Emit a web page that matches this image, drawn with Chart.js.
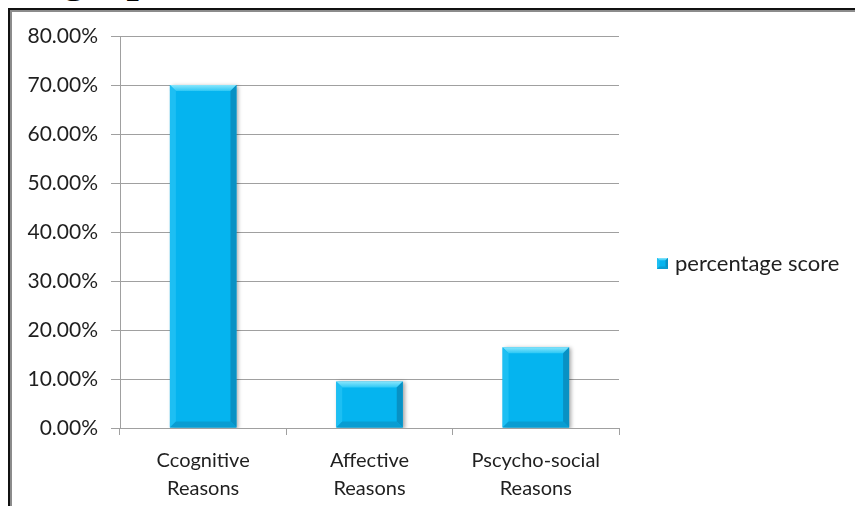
<!DOCTYPE html>
<html>
<head>
<meta charset="utf-8">
<script src="https://cdn.jsdelivr.net/npm/chart.js@4"></script>
<style>
  html, body { margin: 0; padding: 0; background: #fff; overflow: hidden; }
  #wrap { position: relative; width: 855px; height: 506px; overflow: hidden; }
  #cap { position: absolute; left: 63px; top: -44px; font: bold 44px "Liberation Serif", serif; line-height: 44px; color: #000; white-space: nowrap; }
  #frame { position: absolute; left: 8px; top: 8px; width: 900px; height: 600px; border-left: 2px solid #111; border-top: 2px solid #111; }
  #frame2 { position: absolute; left: 10px; top: 10px; width: 900px; height: 600px; border-left: 2px solid #8c8c8c; border-top: 2px solid #8c8c8c; }
  canvas { position: absolute; left: 0; top: 0; }
</style>
</head>
<body>
<div id="wrap">
  <div id="cap">graph</div>
  <div id="frame"></div>
  <div id="frame2"></div>
  <canvas id="c" width="855" height="506"></canvas>
</div>
<script>
// Reasons and their percentage scores
const categories = [
  ['Ccognitive', 'Reasons'],
  ['Affective', 'Reasons'],
  ['Pscycho-social', 'Reasons']
];
const seriesName = 'percentage score';
const percentageScore = [70, 9.5, 16.5];
const yTickValues = [0, 10, 20, 30, 40, 50, 60, 70, 80];

const FAMILY = 'Lato, "Open Sans", sans-serif';
const TEXT = '#1f1f1f';
const GRID = '#a0a0a0';
const FACE = '#05b4ef';

// bevelled look for each bar: light top edge, darker right and bottom edges
function bevel(ctx, L, T, R, B, b) {
  const g = ctx.createLinearGradient(0, T, 0, T + b);
  g.addColorStop(0, '#8ae6fc');
  g.addColorStop(1, '#2ec8f5');
  ctx.fillStyle = g;
  ctx.beginPath(); ctx.moveTo(L, T); ctx.lineTo(R, T); ctx.lineTo(R - b, T + b); ctx.lineTo(L + b, T + b); ctx.closePath(); ctx.fill();
  ctx.fillStyle = '#1dbff3';
  ctx.beginPath(); ctx.moveTo(L, T); ctx.lineTo(L + b, T + b); ctx.lineTo(L + b, B - b); ctx.lineTo(L, B); ctx.closePath(); ctx.fill();
  ctx.fillStyle = '#0891c4';
  ctx.beginPath(); ctx.moveTo(R, T); ctx.lineTo(R, B); ctx.lineTo(R - b, B - b); ctx.lineTo(R - b, T + b); ctx.closePath(); ctx.fill();
  ctx.fillStyle = '#099dd2';
  ctx.beginPath(); ctx.moveTo(L, B); ctx.lineTo(R, B); ctx.lineTo(R - b, B - b); ctx.lineTo(L + b, B - b); ctx.closePath(); ctx.fill();
}

const barBevel = {
  id: 'barBevel',
  beforeDatasetsDraw(chart) {
    const ctx = chart.ctx;
    ctx.save();
    ctx.shadowColor = 'rgba(0,0,0,0.35)';
    ctx.shadowBlur = 4;
    ctx.shadowOffsetX = 2;
    ctx.shadowOffsetY = 1;
  },
  afterDatasetsDraw(chart) {
    const ctx = chart.ctx;
    ctx.restore();
    chart.getDatasetMeta(0).data.forEach(el => {
      const { x, y, base, width } = el.getProps(['x', 'y', 'base', 'width'], true);
      const h = base - y;
      bevel(ctx, x - width / 2, y, x + width / 2, base, Math.min(6, h / 3));
    });
  }
};

// legend entry placed to the right of the plot
const sideLegend = {
  id: 'sideLegend',
  afterDraw(chart) {
    const ctx = chart.ctx;
    const ds = chart.data.datasets[0];
    const bx = 657, by = 258, s = 11;
    ctx.save();
    ctx.fillStyle = ds.backgroundColor;
    ctx.fillRect(bx, by, s, s);
    bevel(ctx, bx, by, bx + s, by + s, 2.5);
    ctx.font = `22px ${FAMILY}`;
    ctx.fillStyle = TEXT;
    ctx.textBaseline = 'middle';
    ctx.textAlign = 'left';
    ctx.fillText(ds.label, 675, by + s / 2);
    ctx.restore();
  }
};

new Chart(document.getElementById('c'), {
  type: 'bar',
  data: {
    labels: categories,
    datasets: [{
      label: seriesName,
      data: percentageScore,
      backgroundColor: FACE,
      borderWidth: 0,
      barPercentage: 0.4,
      categoryPercentage: 1
    }]
  },
  options: {
    responsive: false,
    animation: false,
    devicePixelRatio: 1,
    layout: { padding: { left: 0, top: 36, right: 236, bottom: 0 } },
    plugins: { legend: { display: false }, tooltip: { enabled: false } },
    scales: {
      x: {
        grid: { offset: true, drawOnChartArea: false, color: GRID, tickLength: 7 },
        border: { color: GRID },
        ticks: { font: { family: FAMILY, size: 20, lineHeight: 1.4 }, color: TEXT, padding: 12, maxRotation: 0 },
        afterFit(s) { s.height = 78; }
      },
      y: {
        min: 0,
        max: 80,
        afterBuildTicks(s) { s.ticks = yTickValues.map(v => ({ value: v })); },
        grid: { color: GRID, tickLength: 9 },
        border: { color: GRID },
        ticks: { font: { family: FAMILY, size: 21 }, color: TEXT, padding: 13, callback: v => v.toFixed(2) + '%' },
        afterFit(s) { s.width = 120; }
      }
    }
  },
  plugins: [barBevel, sideLegend]
});
</script>
</body>
</html>
